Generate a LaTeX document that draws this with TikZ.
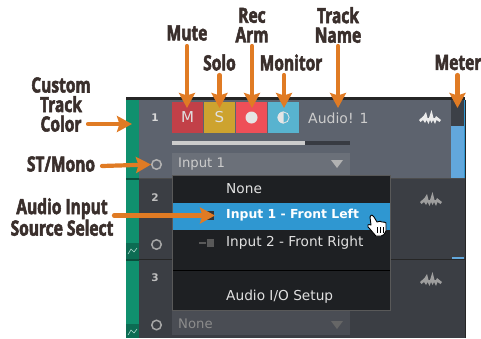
\documentclass[tikz,border=0pt]{standalone}
\usepackage{fontspec}
\usetikzlibrary{arrows.meta}
\newfontfamily\lblfont[FakeStretch=0.74,BoldFeatures={FakeBold=2.5}]{Open Sans}
\newfontfamily\uifont{DejaVu Sans}
\definecolor{orangearrow}{HTML}{E07B24}
\definecolor{lbl}{HTML}{3A2F2C}
\definecolor{trackgreen}{HTML}{10906E}
\definecolor{trackone}{HTML}{5D636E}
\definecolor{tracktwo}{HTML}{3B3E44}
\definecolor{comboone}{HTML}{6B7079}
\definecolor{combotwo}{HTML}{4A4D54}
\definecolor{menubg}{HTML}{1E2023}
\definecolor{menuhi}{HTML}{2F97D1}
\definecolor{meterblue}{HTML}{62A7DC}
\tikzset{
  lab/.style={font=\lblfont\bfseries\fontsize{21}{20}\selectfont,text=lbl,align=center,inner sep=0pt},
  arr/.style={draw=orangearrow,line width=4.2pt,line cap=round,-{Stealth[length=15pt,width=16pt,inset=2.5pt]}},
  btn/.style={minimum width=31pt,minimum height=31pt,inner sep=0pt,font=\uifont\fontsize{15}{15}\selectfont,text=white!88!black},
  ui/.style={font=\uifont\fontsize{13.2}{14}\selectfont,inner sep=0pt,anchor=west},
  menuitem/.style={font=\uifont\fontsize{13.7}{14}\selectfont,inner sep=0pt,anchor=west,text=white!88!black},
  num/.style={font=\uifont\bfseries\fontsize{10.5}{12}\selectfont,inner sep=0pt},
  mono/.style={draw=#1,line width=1.5pt,circle,minimum size=9.5pt,inner sep=0pt},
  wave/.style={fill=#1,draw=none}
}
\newcommand{\waveicon}[3]{\fill[wave=#3] (#1-11,#2+3) -- (#1-6.5,#2-1) -- (#1-4,#2-5) -- (#1-2.5,#2+1) -- (#1-1,#2+1) -- (#1+1.5,#2-7) -- (#1+3.5,#2+1) -- (#1+5,#2+1) -- (#1+6,#2-1) -- (#1+11,#2+3) -- (#1+9.5,#2+5) -- (#1+6.5,#2+3) -- (#1+5,#2+7) -- (#1+3,#2+3) -- (#1+1.5,#2+6) -- (#1,#2+3) -- (#1-1.5,#2+7) -- (#1-3.5,#2+3) -- (#1-5,#2+6) -- (#1-7,#2+3) -- (#1-9.5,#2+5) -- cycle;}
\begin{document}
\begin{tikzpicture}[x=1pt,y=-1pt]
\useasboundingbox (0,0) rectangle (481,338);
% panel
\fill[trackone] (126,98) rectangle (465,178);
\fill[tracktwo] (126,178) rectangle (465,338);
\fill[black!85] (126,97) rectangle (465,100);
\fill[black!85] (139,259) rectangle (465,260);
\fill[black!70] (139,178) rectangle (465,179);
\fill[trackgreen] (126,100) rectangle (139,338);
\fill[black!45!trackgreen] (126,178) rectangle (139,180);
\fill[black!45!trackgreen] (126,259) rectangle (139,261);
\fill[black!25!trackgreen] (126,243) rectangle (139,259);
\fill[black!25!trackgreen] (126,324) rectangle (139,338);
\draw[white!65!trackgreen,line width=.6pt] (128,254) -- (131,249) -- (134,252) -- (137,248);
\draw[white!65!trackgreen,line width=.6pt] (128,335) -- (131,330) -- (134,333) -- (137,329);
\fill[black!85] (465,100) rectangle (466,338);
\fill[menuhi] (464,100) rectangle (465.4,178);
% meter
\fill[black!35!trackone] (451,100) rectangle (464,126);
\fill[meterblue] (451,126) rectangle (464,178);
\fill[meterblue] (452,257) rectangle (464,259);
% buttons
\node[btn,fill={rgb,255:red,194;green,64;blue,72}] (btnM) at (187.5,117.5) {M};
\node[btn,fill={rgb,255:red,205;green,163;blue,47}] (btnS) at (219.5,117.5) {S};
\node[btn,fill={rgb,255:red,238;green,79;blue,88}] (btnR) at (251.5,117.5) {};
\node[btn,fill={rgb,255:red,88;green,179;blue,207}] (btnMon) at (283.5,117.5) {};
\fill[white!90!black] (btnR) circle (6pt);
\fill[white!90!black] (283.5,111.5) arc (90:270:6pt) -- cycle;
\draw[white!90!black,line width=.8pt] (283.5,117.5) circle (5.6pt);
\node[ui,text=white!80!black,font=\uifont\fontsize{14}{14}\selectfont] (trackname) at (308,118) {Audio! 1};
\waveicon{430}{117}{white!92!black}
\node[num,text=white!85!black] (n1) at (155,118) {1};
% fader
\fill[black!40!trackone] (172,141) rectangle (350,145);
\fill[white!80!black] (172,141) rectangle (305,145);
% combo 1
\fill[comboone] (172,153) rectangle (350,178);
\node[ui,text=white!80!black] (in1) at (178,164.5) {Input 1};
\fill[white!70!black] (331,160) -- (343,160) -- (337,168) -- cycle;
\node[mono=white!70!black] (m1) at (156.5,164.5) {};
% track 2
\node[num,text=white!75!black] (n2) at (155,198) {2};
\node[mono=white!65!black] (m2) at (156.5,244.5) {};
\waveicon{431}{199}{white!62!black}
% track 3
\node[num,text=white!75!black] (n3) at (155,278) {3};
\node[mono=white!65!black] (m3) at (156.5,325) {};
\waveicon{431}{279}{white!62!black}
\fill[combotwo] (172,311) rectangle (350,335);
\node[ui,text=white!55!black] (none3) at (178,324) {None};
\fill[white!40!black] (331,321) -- (343,321) -- (337,329) -- cycle;
% menu
\filldraw[fill=menubg,draw=black!65!white,line width=1pt] (172.5,175.5) rectangle (390.5,310.5);
\fill[menuhi] (173,202.5) rectangle (390,229.5);
\fill[black] (173,269.5) rectangle (390,270.5);
\node[menuitem] (mNone) at (226,188.5) {None};
\node[menuitem,text=white,font=\uifont\bfseries\fontsize{12.4}{13}\selectfont] (mIn1) at (226,215.5) {Input 1 - Front Left};
\node[menuitem] (mIn2) at (226,242.5) {Input 2 - Front Right};
\node[menuitem] (mSetup) at (226,296.5) {Audio I/O Setup};
\fill[white!35!black] (199,241.5) rectangle (206,243.5);
\fill[white!35!black] (207,239) rectangle (214,247);
\fill[black!80] (207,211) rectangle (214,220);
% cursor
\filldraw[fill=white,draw=black,line width=.9pt,line join=round]
 (370,217) .. controls (371,214) and (373,215) .. (374,217) -- (377,222)
 .. controls (379,221) and (381,221) .. (382,222)
 .. controls (384,222) and (385,222) .. (386,223)
 -- (386,231) .. controls (385,234) and (383,236) .. (381,236)
 -- (376,236) .. controls (374,234) and (371,230) .. (368,227)
 .. controls (367,225) and (368,224) .. (371,225) -- cycle;
\draw[black,line width=.8pt] (377,227) -- (377,233) (380,227) -- (380,233) (383,227) -- (383,233);
% labels
\node[lab] (lMute) at (187,33) {Mute};
\node[lab] (lSolo) at (219.5,62.5) {Solo};
\node[lab] (lRec) at (252,25) {Rec\\[-0.5pt]Arm};
\node[lab] (lMon) at (291,62.5) {Monitor};
\node[lab] (lName) at (338,25) {Track\\[-0.5pt]Name};
\node[lab] (lMeter) at (458,62.5) {Meter};
\node[lab] (lCustom) at (61,104.5) {Custom\\[-0.5pt]Track\\[-0.5pt]Color};
\node[lab] (lST) at (61,164) {ST/Mono};
\node[lab] (lAudio) at (62,217) {Audio Input\\[-0.5pt]Source Select};
% arrow targets
\coordinate (tMute) at (187,108);
\coordinate (tSolo) at (219.5,108);
\coordinate (tRec) at (252,108);
\coordinate (tMon) at (284,108);
\coordinate (tName) at (338,108);
\coordinate (tMeter) at (457.5,108);
\coordinate (sCustom) at (88,124);
\coordinate (tCustom) at (132,124);
\coordinate (sST) at (102,166);
\coordinate (tST) at (151,164.5);
\coordinate (sAudio) at (114,215.5);
\coordinate (tAudio) at (215,215.5);
\draw[arr] (187,46) -- (tMute);
\draw[arr] (219.5,75) -- (tSolo);
\draw[arr] (252,46) -- (tRec);
\draw[arr] (284,75) -- (tMon);
\draw[arr] (338,46) -- (tName);
\draw[arr] (457.5,75) -- (tMeter);
\draw[arr] (sCustom) -- (tCustom);
\draw[arr] (sST) -- (tST);
\draw[arr] (sAudio) -- (tAudio);
\end{tikzpicture}
\end{document}
